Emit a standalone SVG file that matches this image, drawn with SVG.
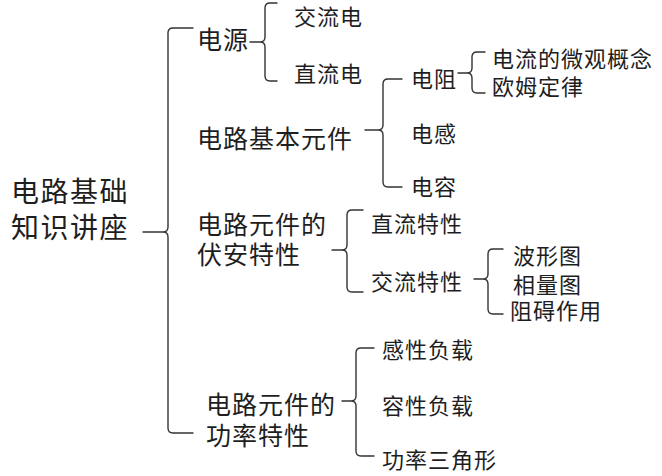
<svg xmlns="http://www.w3.org/2000/svg" width="662" height="476" viewBox="0 0 662 476">
<style>
text{font-family:"Noto Sans CJK SC","Noto Sans",sans-serif;fill:#1e1e1e;dominant-baseline:central}
.r{font-size:28px;letter-spacing:1.5px}
.l1{font-size:25px;letter-spacing:1px}
.l2{font-size:22px;letter-spacing:1px}
.b{fill:none;stroke:#333;stroke-width:1.4;stroke-linecap:round;stroke-linejoin:round}
</style>
<rect width="662" height="476" fill="#fff"/>
<g id="connectors">
<path class="b" d="M193,28 H173 Q168,28 168,33 V227 Q168,232 163,232 Q168,232 168,237 V428 Q168,433 173,433 H193 M143,232 H163"/>
<path class="b" d="M277,3 H270 Q265,3 265,8 V37 Q265,42 260,42 Q265,42 265,47 V76 Q265,81 270,81 H277 M250,42 H260"/>
<path class="b" d="M402,79 H388 Q383,79 383,84 V125 Q383,130 378,130 Q383,130 383,135 V182 Q383,187 388,187 H402 M365,130 H378"/>
<path class="b" d="M485,52 H477 Q472,52 472,57 V68 Q472,73 467,73 Q472,73 472,78 V88 Q472,93 477,93 H485 M458,73 H467"/>
<path class="b" d="M363,210 H352 Q347,210 347,215 V245 Q347,250 342,250 Q347,250 347,255 V287 Q347,292 352,292 H363 M332,250 H342"/>
<path class="b" d="M503,249 H493 Q488,249 488,254 V274 Q488,279 483,279 Q488,279 488,284 V309 Q488,314 493,314 H503 M474,279 H483"/>
<path class="b" d="M374,348 H361 Q356,348 356,353 V396 Q356,401 351,401 Q356,401 356,406 V451 Q356,456 361,456 H374 M342,401 H351"/>
</g>
<g id="root"><text class="r" x="11" y="190">电路基础<tspan x="11" dy="36">知识讲座</tspan></text></g>
<g id="n-dianyuan"><text class="l1" x="197" y="38">电源</text></g>
<g id="n-jiaoliudian"><text class="l2" x="294" y="15">交流电</text></g>
<g id="n-zhiliudian"><text class="l2" x="294" y="72">直流电</text></g>
<g id="n-yuanjian"><text class="l1" x="197" y="137">电路基本元件</text></g>
<g id="n-dianzu"><text class="l2" x="411" y="77">电阻</text></g>
<g id="n-weiguan"><text class="l2" x="492" y="57">电流的微观概念</text></g>
<g id="n-oumu"><text class="l2" x="492" y="85">欧姆定律</text></g>
<g id="n-diangan"><text class="l2" x="411" y="132">电感</text></g>
<g id="n-dianrong"><text class="l2" x="411" y="185">电容</text></g>
<g id="n-fuan"><text class="l1" x="197" y="223">电路元件的<tspan x="197" dy="30">伏安特性</tspan></text></g>
<g id="n-zhiliutexing"><text class="l2" x="371" y="222">直流特性</text></g>
<g id="n-jiaoliutexing"><text class="l2" x="371" y="280">交流特性</text></g>
<g id="n-boxing"><text class="l2" x="513" y="254">波形图</text></g>
<g id="n-xiangliang"><text class="l2" x="513" y="283">相量图</text></g>
<g id="n-zuai"><text class="l2" x="510" y="309">阻碍作用</text></g>
<g id="n-gonglv"><text class="l1" x="206" y="403">电路元件的<tspan x="206" dy="31">功率特性</tspan></text></g>
<g id="n-ganxing"><text class="l2" x="382" y="348">感性负载</text></g>
<g id="n-rongxing"><text class="l2" x="382" y="404">容性负载</text></g>
<g id="n-sanjiao"><text class="l2" x="382" y="458">功率三角形</text></g>
</svg>
